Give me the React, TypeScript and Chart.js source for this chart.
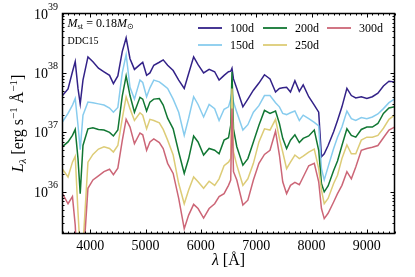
import React, { useEffect, useRef } from "react";
import { Chart, registerables } from "chart.js";

Chart.register(...registerables);

// Wavelength grid (Å)
const wavelengths = [
  3500, 3600, 3680, 3730, 3780, 3820, 3870, 3960, 4050, 4150, 4250, 4350, 4420, 4500,
  4580, 4650, 4720, 4800, 4900, 4950, 5020, 5080, 5150, 5250, 5320, 5400, 5500,
  5600, 5700, 5780, 5870, 5950, 6050, 6150, 6250, 6330, 6420, 6500,
  6540, 6563, 6590, 6650, 6760, 6850, 6950, 7050, 7150, 7250, 7350, 7420, 7480,
  7550, 7620, 7700, 7780, 7850, 7950, 8050, 8130, 8180, 8230, 8300, 8400, 8470,
  8550, 8640, 8720, 8800, 8900, 9000, 9100, 9200, 9300, 9400, 9500,
];

// log10 L_lambda [erg s^-1 Å^-1]
const logL100d = [
  37.62, 37.73, 38.02, 38.19, 37.74, 37.48, 37.88, 38.27, 38.19, 38.08, 38.02, 37.96, 37.82, 37.95,
  38.36, 38.59, 38.24, 38.06, 38.14, 38.18, 37.96, 38.0, 38.13, 38.18, 38.22, 38.13, 38.04,
  37.88, 37.74, 37.99, 38.27, 38.14, 38.0, 38.06, 38.02, 37.88, 37.96, 38.02,
  38.03, 38.08, 37.9, 37.74, 37.43, 37.56, 37.71, 37.83, 37.97, 37.9, 37.68, 37.74, 37.75,
  37.76, 37.68, 37.87, 37.69, 37.8, 37.6, 37.46, 37.34, 36.59, 36.64, 36.78, 37.01, 37.2,
  37.43, 37.74, 37.62, 37.58, 37.6, 37.57, 37.6, 37.66, 37.78, 37.86, 37.85,
];
const logL150d = [
  37.18, 37.32, 37.46, 37.57, 37.12, 36.71, 37.29, 37.51, 37.5, 37.48, 37.46, 37.41, 37.34, 37.42,
  38.0, 38.31, 37.76, 37.56, 37.88, 37.84, 37.6, 37.75, 37.88, 37.85, 37.8, 37.74, 37.56,
  37.34, 36.95, 37.24, 37.6, 37.47, 37.26, 37.47, 37.4, 37.2, 37.39, 37.43,
  37.56, 37.68, 37.51, 37.34, 37.04, 37.13, 37.34, 37.45, 37.62, 37.62, 37.5, 37.43, 37.32,
  37.3, 37.33, 37.36, 37.2, 37.29, 37.23, 37.17, 37.11, 36.39, 36.2, 36.42, 36.73, 36.92,
  37.09, 37.36, 37.23, 37.2, 37.25, 37.23, 37.26, 37.31, 37.4, 37.5, 37.56,
];
const logL200d = [
  36.76, 36.84, 36.95, 37.05, 36.56, 35.97, 36.78, 37.06, 37.08, 37.05, 37.04, 37.0, 36.94, 37.04,
  37.61, 37.95, 37.62, 37.34, 37.59, 37.56, 37.36, 37.51, 37.56, 37.57, 37.46, 37.24, 37.06,
  36.67, 36.31, 36.56, 36.94, 36.84, 36.62, 36.73, 36.7, 36.64, 36.87, 36.91,
  37.12, 38.02, 37.06, 36.76, 36.45, 36.56, 36.84, 37.12, 37.37, 37.32, 37.36, 37.15, 36.9,
  36.73, 36.87, 36.96, 36.83, 36.9, 36.94, 37.04, 36.7, 36.14, 36.0, 36.1, 36.36, 36.52,
  36.78, 37.06, 36.95, 36.92, 37.05, 37.09, 37.09, 37.15, 37.32, 37.41, 37.43,
];
const logL250d = [
  36.38, 36.25, 36.5, 36.6, 35.66, 35.0, 35.1, 36.5, 36.63, 36.72, 36.76, 36.73, 36.67, 36.78,
  37.23, 37.6, 37.4, 37.2, 37.33, 37.29, 37.06, 37.22, 37.2, 37.16, 37.05, 36.87, 36.62,
  36.14, 35.8, 36.03, 36.25, 36.17, 36.06, 36.18, 36.11, 36.22, 36.44, 36.5,
  36.56, 37.74, 36.67, 36.45, 36.11, 36.22, 36.48, 36.84, 37.06, 37.04, 37.22, 36.9, 36.67,
  36.39, 36.5, 36.62, 36.56, 36.6, 36.67, 36.72, 36.39, 36.03, 35.8, 35.89, 36.14, 36.28,
  36.56, 36.79, 36.64, 36.64, 36.87, 36.92, 36.92, 36.95, 37.07, 37.22, 37.29,
];
const logL300d = [
  35.97, 35.8, 35.92, 35.44, 34.5, 34.5, 34.77, 36.06, 36.2, 36.27, 36.34, 36.38, 36.29, 36.4,
  36.86, 37.22, 37.09, 36.81, 36.99, 36.96, 36.7, 36.84, 36.89, 36.83, 36.73, 36.48, 36.31,
  35.89, 35.38, 35.61, 35.79, 35.72, 35.56, 35.72, 35.8, 35.92, 35.97, 36.11,
  36.2, 37.4, 36.34, 36.2, 35.78, 35.86, 36.2, 36.48, 36.63, 36.7, 37.02, 36.62, 36.17,
  35.97, 36.11, 36.16, 36.12, 36.25, 36.44, 36.48, 36.17, 35.72, 35.55, 35.64, 35.83, 35.97,
  36.11, 36.34, 36.22, 36.42, 36.7, 36.73, 36.75, 36.78, 36.91, 37.04, 37.09,
];

const seriesLabels = ["100d", "150d", "200d", "250d", "300d"];
const seriesColors = ["#332288", "#88CCEE", "#117733", "#DDCC77", "#CC6677"];
const seriesLogs = [logL100d, logL150d, logL200d, logL250d, logL300d];

const xTickValues = [4000, 5000, 6000, 7000, 8000, 9000];
const yDecades = [36, 37, 38, 39];
const X_MIN = 3500;
const X_MAX = 9500;
const LOG_Y_MIN = 35.3;
const LOG_Y_MAX = 39;

const FONT = '"Liberation Serif", "Times New Roman", serif';

type Seg = { t: string; it?: boolean; s: number; dy?: number };
const segFont = (g: Seg) => `${g.it ? "italic " : ""}${g.s}px ${FONT}`;
function segWidth(ctx: CanvasRenderingContext2D, segs: Seg[]) {
  let w = 0;
  for (const g of segs) {
    ctx.font = segFont(g);
    w += ctx.measureText(g.t).width;
  }
  return w;
}
function drawSegs(ctx: CanvasRenderingContext2D, segs: Seg[], x: number, y: number) {
  let cx = x;
  for (const g of segs) {
    ctx.font = segFont(g);
    ctx.fillText(g.t, cx, y + (g.dy || 0));
    cx += ctx.measureText(g.t).width;
  }
}

const decorPlugin = {
  id: "decor",
  afterDraw(chart: any) {
    const { ctx, chartArea: a, scales } = chart;
    const xs = scales.x;
    const ys = scales.y;
    ctx.save();
    ctx.strokeStyle = "#000";
    ctx.fillStyle = "#000";
    // ticks
    ctx.lineWidth = 1;
    const vt = (px: number, len: number) => {
      ctx.beginPath();
      ctx.moveTo(px, a.bottom);
      ctx.lineTo(px, a.bottom - len);
      ctx.moveTo(px, a.top);
      ctx.lineTo(px, a.top + len);
      ctx.stroke();
    };
    const ht = (py: number, len: number) => {
      ctx.beginPath();
      ctx.moveTo(a.left, py);
      ctx.lineTo(a.left + len, py);
      ctx.moveTo(a.right, py);
      ctx.lineTo(a.right - len, py);
      ctx.stroke();
    };
    for (let v = X_MIN; v <= X_MAX; v += 100) {
      const px = Math.round(xs.getPixelForValue(v)) + 0.5;
      vt(px, v % 1000 === 0 ? 4 : 2);
    }
    for (let d = 35; d <= 38; d++) {
      for (let m = 1; m <= 9; m++) {
        const lv = d + Math.log10(m);
        if (lv < LOG_Y_MIN || lv > LOG_Y_MAX) continue;
        const py = Math.round(ys.getPixelForValue(m * Math.pow(10, d))) + 0.5;
        ht(py, m === 1 ? 4 : 2);
      }
    }
    // frame
    ctx.lineWidth = 1.5;
    ctx.strokeRect(a.left, a.top, a.right - a.left, a.bottom - a.top);

    // x tick labels
    ctx.textAlign = "center";
    ctx.textBaseline = "alphabetic";
    ctx.font = `14px ${FONT}`;
    for (const v of xTickValues) {
      ctx.fillText(String(v), xs.getPixelForValue(v), a.bottom + 16);
    }
    // y tick labels 10^n
    ctx.textAlign = "left";
    for (const d of yDecades) {
      const py = ys.getPixelForValue(Math.pow(10, d));
      const exp = String(d);
      ctx.font = `10px ${FONT}`;
      const ew = ctx.measureText(exp).width;
      ctx.font = `14px ${FONT}`;
      const bw = ctx.measureText("10").width;
      const right = a.left - 4.5;
      ctx.font = `14px ${FONT}`;
      ctx.fillText("10", right - ew - bw, py + 5);
      ctx.font = `10px ${FONT}`;
      ctx.fillText(exp, right - ew, py - 4);
    }
    // axis titles
    const xt: Seg[] = [
      { t: "λ", it: true, s: 16 },
      { t: " [Å]", s: 16 },
    ];
    const xw = segWidth(ctx, xt);
    drawSegs(ctx, xt, (a.left + a.right) / 2 - xw / 2, 265);

    const yt: Seg[] = [
      { t: "L", it: true, s: 16 },
      { t: "λ", it: true, s: 11, dy: 3 },
      { t: " [erg s", s: 16 },
      { t: "−1", s: 11, dy: -6 },
      { t: " Å", s: 16 },
      { t: "−1", s: 11, dy: -6 },
      { t: "]", s: 16 },
    ];
    const yw = segWidth(ctx, yt);
    ctx.save();
    ctx.translate(23, (a.top + a.bottom) / 2);
    ctx.rotate(-Math.PI / 2);
    drawSegs(ctx, yt, -yw / 2, 0);
    ctx.restore();

    // annotations
    drawSegs(
      ctx,
      [
        { t: "M", it: true, s: 12 },
        { t: "st", s: 8.5, dy: 2.5 },
        { t: " = 0.18", s: 12 },
        { t: "M", it: true, s: 12 },
        { t: "⊙", s: 8, dy: 2.5 },
      ],
      a.left + 5,
      26.5
    );
    ctx.font = `10px ${FONT}`;
    ctx.fillText("DDC15", a.left + 5, 44);

    // legend (column-major, 3 columns)
    const colX = [198, 263, 327];
    const rowY = [28, 45];
    ctx.font = `12px ${FONT}`;
    seriesLabels.forEach((lab, i) => {
      const col = Math.floor(i / 2);
      const row = i % 2;
      const x0 = colX[col];
      const y0 = rowY[row];
      ctx.strokeStyle = seriesColors[i];
      ctx.lineWidth = 1.8;
      ctx.beginPath();
      ctx.moveTo(x0, y0);
      ctx.lineTo(x0 + 24, y0);
      ctx.stroke();
      ctx.fillStyle = "#000";
      ctx.fillText(lab, x0 + 32, y0 + 4);
    });
    ctx.restore();
  },
};

export default function App() {
  const ref = useRef<HTMLCanvasElement>(null);
  useEffect(() => {
    document.body.style.margin = "0";
    const canvas = ref.current!;
    const datasets = seriesLabels.map((lab, i) => ({
      label: lab,
      data: wavelengths.map((w, j) => ({ x: w, y: Math.pow(10, seriesLogs[i][j]) })),
      borderColor: seriesColors[i],
      backgroundColor: seriesColors[i],
      borderWidth: 1.5,
      pointRadius: 0,
      tension: 0,
      fill: false,
      order: seriesLabels.length - i,
    }));
    const chart = new Chart(canvas, {
      type: "line",
      data: { datasets },
      options: {
        animation: false,
        responsive: false,
        devicePixelRatio: 1,
        layout: { padding: { left: 0, right: 20.5, top: 13.5, bottom: 0 } },
        plugins: { legend: { display: false }, tooltip: { enabled: false } },
        scales: {
          x: {
            type: "linear",
            min: X_MIN,
            max: X_MAX,
            ticks: { display: false },
            grid: { display: false },
            border: { display: false },
            afterFit: (s: any) => {
              s.height = 43.5;
            },
          },
          y: {
            type: "logarithmic",
            min: Math.pow(10, LOG_Y_MIN),
            max: Math.pow(10, LOG_Y_MAX),
            ticks: { display: false },
            grid: { display: false },
            border: { display: false },
            afterFit: (s: any) => {
              s.width = 62.5;
            },
          },
        },
      } as any,
      plugins: [decorPlugin],
    });
    return () => chart.destroy();
  }, []);
  return <canvas ref={ref} width={415} height={277} style={{ display: "block" }} />;
}
